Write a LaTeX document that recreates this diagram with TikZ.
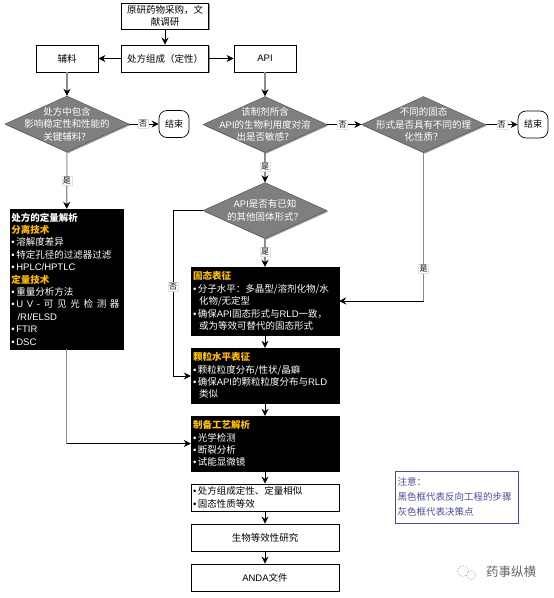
\documentclass[tikz,border=0pt]{standalone}
\usepackage{fontspec}
\setmainfont{Noto Sans CJK SC}
\newfontfamily\latf{Liberation Sans}
\newcommand{\lat}[1]{{\latf #1}}
\newcommand{\bul}{{\latf\textbullet}\kern1.5pt}
\usetikzlibrary{shapes.geometric,shadows,arrows.meta}
\definecolor{dgray}{HTML}{7F7F7F}
\definecolor{lgray}{HTML}{8C8C8C}
\definecolor{headyel}{HTML}{FFC000}
\definecolor{notecol}{HTML}{4A4A9C}
\tikzset{
  x=1pt,y=-1pt,
  softshadow/.style={drop shadow={shadow xshift=1.2pt,shadow yshift=-1.2pt,fill=black,opacity=.4}},
  wbox/.style={draw=black,line width=.8pt,fill=white,inner sep=0pt,align=center,softshadow,font=\fontsize{9.5}{12.4}\selectfont},
  bbox/.style={draw=black,fill=black,text=white,inner sep=0pt,softshadow,align=left,font=\fontsize{9.5}{12.4}\selectfont},
  gdia/.style={diamond,draw=black!70,line width=.4pt,fill=dgray,inner sep=0pt,minimum width=124pt,minimum height=56pt,softshadow},
  dtext/.style={text=white,align=center,font=\fontsize{9.5}{12.4}\selectfont,inner sep=0pt},
  endbox/.style={draw=black,line width=.7pt,fill=white,rounded corners=8pt,minimum width=30pt,minimum height=27pt,inner sep=0pt,font=\fontsize{9}{10}\selectfont},
  lab/.style={fill=white,draw=black!12,line width=.3pt,inner sep=1pt,font=\fontsize{8}{9}\selectfont},
  blk/.style={draw=black,line width=.8pt,-{Stealth[length=7pt,width=7pt]}},
  gry/.style={draw=lgray,line width=1.1pt,-{Stealth[length=7pt,width=7pt,black]}},
  blkline/.style={draw=black,line width=.8pt},
  gryline/.style={draw=lgray,line width=1.1pt},
}
\newcommand{\hd}[1]{\textcolor{headyel}{\textbf{#1}}}
\begin{document}
\begin{tikzpicture}
\useasboundingbox (0,0) rectangle (554,598);
% top boxes
\node[wbox,minimum width=87pt,minimum height=26pt] (src) at (165,16) {原研药物采购，文\\献调研};
\node[wbox,minimum width=87pt,minimum height=27pt] (form) at (165,58.5) {处方组成（定性）};
\node[wbox,minimum width=62pt,minimum height=27pt] (exc) at (67,58.5) {辅料};
\node[wbox,minimum width=62pt,minimum height=27pt] (api) at (265,58.5) {\lat{API}};
% diamonds
\node[gdia] (d1) at (67,124) {};
\node[dtext] (d1t) at (67,124) {处方中包含\\影响稳定性和性能的\\关键辅料？};
\node[gdia] (d2) at (265,124.5) {};
\node[dtext] (d2t) at (265,124.5) {该制剂所含\\\lat{API}的生物利用度对溶\\出是否敏感？};
\node[gdia] (d3) at (423.5,124.5) {};
\node[dtext] (d3t) at (423.5,124.5) {不同的固态\\形式是否具有不同的理\\化性质？};
\node[gdia] (d4) at (265,210.5) {};
\node[dtext] (d4t) at (265,210.5) {\lat{API}是否有已知\\的其他固体形式？};
% ends
\node[endbox] (e1) at (174,124) {结束};
\node[endbox] (e2) at (533,124.5) {结束};
% black boxes
\node[bbox,minimum width=113pt,minimum height=140pt,text width=110pt] (b1) at (66.5,279) {%
\textbf{处方的定量解析}\\
\hd{分离技术}\\
\bul 溶解度差异\\
\bul 特定孔径的过滤器过滤\\
\bul\lat{HPLC/HPTLC}\\
\hd{定量技术}\\
\bul 重量分析方法\\
\makebox[108pt][s]{\bul\lat{U}\hfill\lat{V}\hfill\lat{-}\hfill 可\hfill 见\hfill 光\hfill 检\hfill 测\hfill 器}\\
\hspace*{6pt}\lat{/RI/ELSD}\\
\bul\lat{FTIR}\\
\bul\lat{DSC}};
\node[bbox,minimum width=148pt,minimum height=68pt,text width=144pt] (b2) at (265,301) {%
\hd{固态表征}\\
\bul 分子水平：多晶型/溶剂化物/水\\
\hspace*{6pt}化物/无定型\\
\bul 确保\lat{API}固态形式与\lat{RLD}一致，\\
\hspace*{6pt}或为等效可替代的固态形式};
\node[bbox,minimum width=148pt,minimum height=55pt,text width=144pt] (b3) at (265,375.5) {%
\hd{颗粒水平表征}\\
\bul 颗粒粒度分布/性状/晶癖\\
\bul 确保\lat{API}的颗粒粒度分布与\lat{RLD}\\
\hspace*{6pt}类似};
\node[bbox,minimum width=148pt,minimum height=55pt,text width=144pt] (b4) at (265,443.5) {%
\hd{制备工艺解析}\\
\bul 光学检测\\
\bul 断裂分析\\
\bul 试能显微镜};
% lower white boxes
\node[wbox,minimum width=148pt,minimum height=27pt,text width=144pt,align=left] (w1) at (265,497.5) {\bul 处方组成定性、定量相似\\\bul 固态性质等效};
\node[wbox,minimum width=148pt,minimum height=27pt] (w2) at (265,537.5) {生物等效性研究};
\node[wbox,minimum width=148pt,minimum height=27pt] (w3) at (265,577.5) {\lat{ANDA}文件};
% note
\node[draw=notecol,line width=.8pt,minimum width=123pt,minimum height=52pt,text width=118pt,inner sep=0pt,align=left,text=notecol,font=\fontsize{9.5}{15}\selectfont] (note) at (456.5,497) {注意：\\黑色框代表反向工程的步骤\\灰色框代表决策点};
% watermark
\node[text=black!60,inner sep=0pt,font=\fontsize{12.5}{14}\selectfont] (wm) at (511,572) {药事纵横};
\draw[black!40,densely dotted,line width=.6pt] (463,571) circle (5.5);
\draw[black!40,densely dotted,line width=.6pt] (471,575) circle (4.5);
% connectors
\draw[blk] (src) -- (form);
\draw[blk] (form) -- (exc);
\draw[blk] (form) -- (api);
\draw[gry] (exc) -- (d1);
\draw[gry] (api) -- (d2);
\draw[blk] (d1) -- node[lab,pos=.47] (l1) {否} (e1);
\draw[gry] (d1) -- node[lab,pos=.5] (l2) {是} (b1);
\draw[blk] (d2) -- node[lab,pos=.45] (l3) {否} (d3);
\draw[blk] (d3) -- node[lab,pos=.5] (l4) {否} (e2);
\draw[gry] (d2) -- node[lab,pos=.48] (l5) {是} (d4);
\draw[gry] (d4) -- node[lab,pos=.47] (l6) {是} (b2);
\coordinate (c3) at (d3.south |- b2.east);
\draw[gryline] (d3) -- node[lab,pos=.78] (l7) {是} (c3);
\draw[blk] (c3) -- (b2);
\coordinate (c4a) at (173,210.5);
\coordinate (c4b) at (173,376);
\draw[blkline] (d4) -- (c4a) -- node[lab,pos=.46] (l8) {否} (c4b);
\draw[blk] (c4b) -- (b3.west |- c4b);
\draw[blk] (b2) -- (b3);
\draw[blk] (b3) -- (b4);
\coordinate (c1) at (b1.south |- b4.west);
\draw[gryline] (b1) -- (c1);
\draw[blk] (c1) -- (b4);
\draw[blk] (b4) -- (w1);
\draw[blk] (w1) -- (w2);
\draw[blk] (w2) -- (w3);
\end{tikzpicture}
\end{document}
